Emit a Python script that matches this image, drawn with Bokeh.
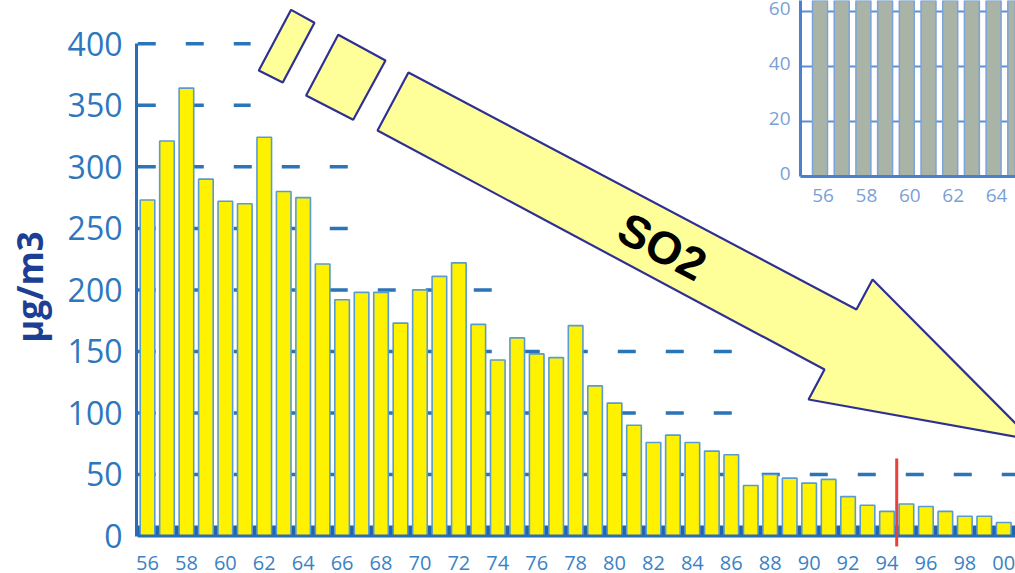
from bokeh.plotting import figure
from bokeh.models import Range1d, FixedTicker
from bokeh.core.properties import value
from bokeh.embed import file_html
from bokeh.resources import INLINE

# ---------------- data ----------------
years = list(range(1956, 2001))
so2 = [273, 321, 364, 290, 272, 270, 324, 280, 275, 221,
       192, 198, 198, 173, 200, 211, 222, 172, 143, 161,
       148, 145, 171, 122, 108, 90, 76, 82, 76, 69,
       66, 41, 50, 47, 43, 46, 32, 25, 20, 26,
       24, 20, 16, 16, 11]
y_ticks = [0, 50, 100, 150, 200, 250, 300, 350, 400]
x_tick_years = list(range(1956, 2001, 2))
x_tick_labels = [f"{y % 100:02d}" for y in x_tick_years]

# dashed reference lines: level and the year where each one stops
grid_levels = [50, 100, 150, 200, 250, 300, 350, 400]
grid_end_year = [2001.0, 1986.3, 1986.3, 1973.9, 1966.3, 1966.3, 1961.3, 1961.3]

# red marker between 1994 and 1995
marker_year = 1994.5
marker_low, marker_high = -8.5, 63

# inset chart (partly visible, top right)
inset_years = list(range(1956, 1967))
inset_values = [78, 80, 79, 77, 76, 78, 80, 79, 77, 76, 78]
inset_y_ticks = [0, 20, 40, 60]
inset_x_ticks = [1956, 1958, 1960, 1962, 1964]
inset_x_labels = ["56", "58", "60", "62", "64"]

# arrow annotation (year, µg/m3)
arrow_xs = [
    [1963.38, 1964.58, 1962.95, 1961.72],
    [1965.80, 1968.23, 1966.57, 1964.15],
    [1969.41, 1992.43, 1993.26, 2001.43, 1989.97, 1990.79, 1967.82],
]
arrow_ys = [
    [427.6, 417.1, 368.5, 378.3],
    [407.3, 386.4, 338.2, 358.0],
    [376.7, 184.1, 208.5, 78.4, 110.9, 135.3, 329.5],
]
label_text = "SO2"
label_year, label_val = 1982.46, 235.3

# ---------------- geometry ----------------
W, H = 1015, 573
FL, FR, FT, FB = 136, 1015, 0, 573         # frame edges in px
X0_PX, PX_YEAR = 147.0, 19.46              # year 1956 position
Y0_PX, PX_UNIT = 535.5, 1.2305             # value 0 position
IX0_PX, IPX_YEAR = 819.5, 21.7             # inset year 1956
IY0_PX, IPX_UNIT = 176.0, 2.75             # inset value 0

x_range = Range1d(1956 + (FL - X0_PX) / PX_YEAR, 1956 + (FR - X0_PX) / PX_YEAR)
y_range = Range1d((Y0_PX - FB) / PX_UNIT, (Y0_PX - FT) / PX_UNIT)

p = figure(width=W, height=H, x_range=x_range, y_range=y_range,
           output_backend="svg", toolbar_location=None,
           min_border_left=FL, min_border_right=0, min_border_top=0,
           min_border_bottom=H - FB)
p.extra_x_ranges = {"ix": Range1d(1956 + (FL - IX0_PX) / IPX_YEAR, 1956 + (FR - IX0_PX) / IPX_YEAR)}
p.extra_y_ranges = {"iy": Range1d((IY0_PX - FB) / IPX_UNIT, (IY0_PX - FT) / IPX_UNIT)}
p.xgrid.visible = False
p.ygrid.visible = False
p.outline_line_color = None
p.background_fill_color = "white"

# y axis
ya = p.yaxis[0]
ya.ticker = FixedTicker(ticks=y_ticks)
ya.bounds = (0, 400)
ya.axis_line_width = 3
ya.axis_line_color = "#2a6cb5"
ya.major_tick_line_color = None
ya.minor_tick_line_color = None
ya.major_tick_out = 0
ya.major_tick_in = 0
ya.major_label_standoff = 14
ya.major_label_text_font = "Open Sans"
ya.major_label_text_font_size = "32px"
ya.major_label_text_color = "#2d77bc"
ya.axis_label = "μg/m3"
ya.axis_label_text_font = "Open Sans"
ya.axis_label_text_font_style = "bold"
ya.axis_label_text_font_size = "35px"
ya.axis_label_text_color = "#1c3f94"
ya.axis_label_standoff = 12

# x axis (labels hang below the zero line)
xa = p.xaxis[0]
xa.ticker = FixedTicker(ticks=x_tick_years)
xa.major_label_overrides = dict(zip(x_tick_years, x_tick_labels))
xa.fixed_location = (Y0_PX - 555) / PX_UNIT
xa.axis_line_color = None
xa.major_tick_line_color = None
xa.minor_tick_line_color = None
xa.major_tick_out = 0
xa.major_tick_in = 0
xa.major_label_standoff = 0
xa.major_label_text_font = "Open Sans"
xa.major_label_text_font_size = "20px"
xa.major_label_text_color = "#3b82c4"

start_year = years[0] - 0.5
end_year = years[-1] + 1

# dashed reference lines
p.segment(x0=[start_year] * len(grid_levels), y0=grid_levels, x1=grid_end_year, y1=grid_levels,
          line_color="#2a74b8", line_width=3.5, line_dash="18 30")
# dark base band seen between the bars
p.quad(left=[start_year], right=[end_year], bottom=[0], top=[8.5],
       fill_color="#1f63ae", line_color=None)
# bars
p.vbar(x=years, top=so2, bottom=0, width=0.75,
       fill_color="#fff200", line_color="#5a9bd0", line_width=1.6)
# baseline
p.segment(x0=[start_year], y0=[0], x1=[end_year], y1=[0], line_color="#2a6cb5", line_width=3)
# red marker
p.segment(x0=[marker_year], y0=[marker_low], x1=[marker_year], y1=[marker_high],
          line_color="#e8413c", line_width=3)

# ---------------- inset ----------------
inset_axis_x = 1956 + (800 - IX0_PX) / IPX_YEAR
inset_top = (IY0_PX - FT) / IPX_UNIT + 2
p.segment(x0=[inset_axis_x] * 3, y0=inset_y_ticks[1:], x1=[inset_years[-1] + 1] * 3, y1=inset_y_ticks[1:],
          line_color="#5b8fd6", line_width=2, x_range_name="ix", y_range_name="iy")
p.vbar(x=inset_years, top=inset_values, bottom=0, width=0.69,
       fill_color="#a9b3a6", line_color="#7aa3dc", line_width=1.5,
       x_range_name="ix", y_range_name="iy")
p.segment(x0=[inset_axis_x, inset_axis_x], y0=[0, 0], x1=[inset_axis_x, inset_years[-1] + 1], y1=[inset_top, 0],
          line_color="#4a80cc", line_width=3, x_range_name="ix", y_range_name="iy")
p.text(x=[inset_axis_x - 10 / IPX_YEAR] * 4, y=[v + 3 / IPX_UNIT for v in inset_y_ticks],
       text=[str(v) for v in inset_y_ticks],
       text_align="right", text_baseline="middle", text_font=value("Open Sans"),
       text_font_size="19px", text_color="#7b9fd6", x_range_name="ix", y_range_name="iy")
p.text(x=[yr + 3 / IPX_YEAR for yr in inset_x_ticks], y=[-19 / IPX_UNIT] * len(inset_x_ticks),
       text=inset_x_labels, text_align="center", text_baseline="middle",
       text_font=value("Open Sans"), text_font_size="19px", text_color="#7b9fd6",
       x_range_name="ix", y_range_name="iy")

# ---------------- arrow ----------------
p.patches(xs=arrow_xs, ys=arrow_ys, fill_color="#ffff99", line_color="#2e3192", line_width=2.2)
p.text(x=[label_year], y=[label_val], text=[label_text], angle=-0.487,
       text_align="center", text_baseline="middle", text_font=value("Liberation Sans"),
       text_font_style="bold", text_font_size="46px", text_color="black")

open("out.html", "w").write(file_html(p, INLINE))
